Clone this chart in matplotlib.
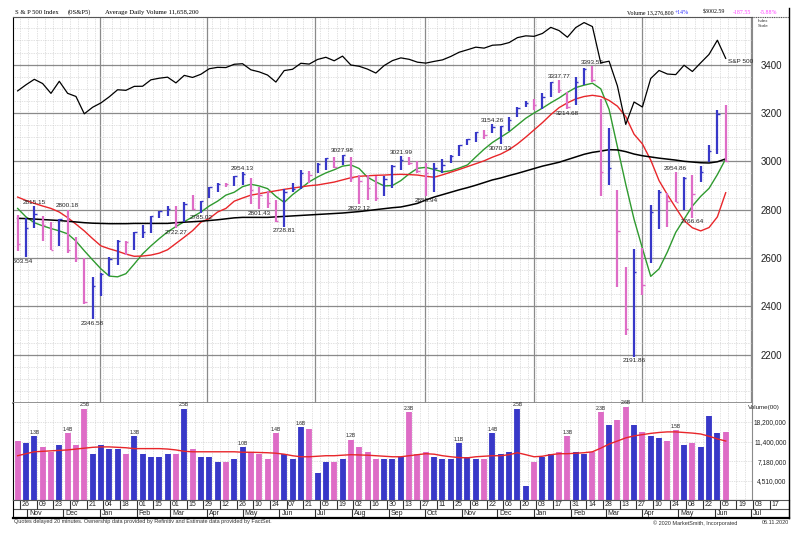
import numpy as np
import pandas as pd
import matplotlib
matplotlib.use("Agg")
import matplotlib.pyplot as plt
import matplotlib.dates as mdates
from matplotlib.lines import Line2D
from matplotlib.ticker import MultipleLocator, NullLocator, FixedLocator, NullFormatter

plt.rcParams['font.family'] = ['Liberation Sans', 'DejaVu Sans']

# Semanas (sexta-feira) do S&P 500, de out/2018 a jun/2020
semanas = pd.date_range("2018-10-26", "2020-06-12", freq="W-FRI")

maximas = [2779, 2767, 2815.15, 2775, 2747, 2760, 2800.18, 2685, 2601, 2520,
           2539, 2605, 2675, 2672, 2708, 2738, 2775, 2795, 2816, 2817,
           2830, 2860, 2836, 2893, 2910, 2911, 2940, 2954.13, 2931, 2892,
           2876, 2841, 2884, 2911, 2964, 2959, 2995, 3014, 3018, 3027.98,
           3017, 2944, 2943, 2939, 2940, 2985, 3021.99, 3017, 3003, 2992,
           2993, 3008, 3027, 3066, 3094, 3120, 3128, 3154.26, 3146, 3183,
           3225, 3248, 3259, 3282, 3329, 3337.77, 3285, 3347, 3385, 3393.52,
           3259, 3137, 2882, 2563, 2637, 2641, 2818, 2880, 2869, 2954.86,
           2933, 2944, 2980, 3068, 3211, 3233]
minimas = [2628, 2603.54, 2722, 2670, 2631, 2649, 2621, 2583, 2409, 2346.58,
           2443, 2525, 2570, 2612, 2631, 2681, 2704, 2766, 2775, 2722.27,
           2747, 2800, 2785.02, 2848, 2873, 2893, 2898, 2900, 2825, 2801.43,
           2805, 2750, 2728.81, 2874, 2887, 2912, 2953, 2964, 2974, 2983,
           2914, 2822.12, 2840, 2834, 2856, 2891, 2964, 2985, 2953, 2855.94,
           2873, 2953, 2991, 3023, 3066, 3078, 3091, 3117, 3070.33, 3124,
           3183, 3223, 3212, 3216, 3264, 3281, 3214.68, 3234, 3315, 3328,
           2856, 2902, 2478, 2280, 2191.86, 2447, 2579, 2719, 2727, 2831,
           2798, 2766.64, 2913, 2999, 3031, 2999]
fechamentos = [2658.69, 2723.06, 2781.01, 2736.27, 2632.56, 2760.17, 2633.08, 2599.95, 2416.62, 2485.74,
               2531.94, 2596.26, 2670.71, 2664.76, 2706.53, 2707.88, 2775.60, 2792.67, 2803.69, 2743.07,
               2822.48, 2800.71, 2834.40, 2892.74, 2907.41, 2905.03, 2939.88, 2945.64, 2881.40, 2859.53,
               2826.06, 2752.06, 2873.34, 2886.98, 2950.46, 2941.76, 2990.41, 3013.77, 2976.61, 3025.86,
               2932.05, 2918.65, 2888.68, 2847.11, 2926.46, 2978.71, 3007.39, 2992.07, 2961.79, 2952.01,
               2970.27, 2986.20, 3022.55, 3066.91, 3093.08, 3120.46, 3110.29, 3140.98, 3145.91, 3168.80,
               3221.22, 3240.02, 3234.85, 3265.35, 3329.62, 3295.47, 3225.52, 3327.71, 3380.16, 3337.75,
               2954.22, 2972.37, 2711.02, 2304.92, 2541.47, 2488.65, 2789.82, 2874.56, 2836.74, 2830.71,
               2929.80, 2863.70, 2955.45, 3044.31, 3193.93, 3002.10]
fechamento_anterior = 2767.78

# volume diario tipico da semana, em milhoes (Volume(00))
volumes = [11.5, 11.0, 13.0, 10.0, 9.0, 10.5, 14.0, 10.5, 25.0, 8.5,
           10.5, 9.5, 9.5, 8.5, 13.0, 8.5, 8.0, 8.0, 8.5, 8.5,
           25.0, 9.5, 8.0, 8.0, 7.0, 7.0, 7.5, 10.0, 9.0, 8.5,
           7.5, 14.0, 8.5, 7.5, 16.0, 15.5, 5.5, 7.0, 7.0, 7.5,
           12.0, 10.0, 9.0, 7.5, 7.5, 7.5, 8.0, 23.0, 8.5, 9.0,
           8.0, 7.5, 7.5, 11.0, 8.0, 7.5, 7.5, 14.0, 8.5, 9.0,
           25.0, 4.0, 7.0, 8.0, 8.5, 9.0, 13.0, 9.0, 8.5, 9.0,
           23.0, 17.0, 19.0, 26.0, 17.0, 14.5, 13.0, 12.5, 11.5, 15.0,
           10.5, 11.0, 10.0, 21.0, 14.0, 14.5]

media_21 = [2805, 2770, 2746, 2733, 2722, 2712, 2700, 2670, 2630, 2592,
            2555, 2525, 2522, 2535, 2575, 2617, 2650, 2680, 2708, 2730,
            2750, 2770, 2790, 2815, 2835, 2860, 2872, 2895, 2905, 2898,
            2887, 2855, 2830, 2862, 2888, 2915, 2935, 2952, 2965, 2980,
            2985, 2970, 2934, 2915, 2898, 2900, 2920, 2948, 2971, 2975,
            2966, 2956, 2961, 2972, 2985, 3018, 3050, 3078, 3100, 3122,
            3150, 3178, 3200, 3220, 3242, 3262, 3285, 3305, 3315, 3323,
            3300, 3215, 3060, 2905, 2760, 2640, 2524, 2555, 2625, 2706,
            2760, 2815, 2855, 2888, 2945, 3010]
media_50 = [2852, 2838, 2826, 2815, 2805, 2790, 2767, 2740, 2712, 2680,
            2650, 2638, 2628, 2616, 2607, 2608, 2612, 2620, 2634, 2660,
            2686, 2713, 2748, 2763, 2790, 2805, 2835, 2848, 2860, 2866,
            2872, 2878, 2884, 2889, 2894, 2899, 2902, 2908, 2914, 2923,
            2932, 2938, 2940, 2942, 2943, 2945, 2946, 2945, 2943, 2938,
            2934, 2944, 2955, 2966, 2978, 2990, 3002, 3017, 3030, 3048,
            3072, 3100, 3130, 3160, 3193, 3222, 3242, 3258, 3268, 3273,
            3268, 3252, 3228, 3185, 3112, 3072, 3005, 2920, 2862, 2808,
            2755, 2725, 2712, 2726, 2770, 2870]
media_200 = [2764, 2763, 2761, 2759, 2757, 2755, 2752, 2749, 2746, 2744,
             2743, 2742, 2742, 2742, 2743, 2743, 2743, 2743, 2743, 2746,
             2748, 2750, 2752, 2755, 2758, 2762, 2766, 2768, 2768, 2768,
             2768, 2770, 2772, 2774, 2776, 2778, 2780, 2782, 2784, 2786,
             2789, 2792, 2796, 2800, 2804, 2808, 2811, 2818, 2826, 2840,
             2852, 2862, 2872, 2882, 2891, 2901, 2912, 2923, 2931, 2941,
             2950, 2960, 2970, 2980, 2988, 2996, 3007, 3018, 3029, 3037,
             3042, 3048, 3047, 3040, 3030, 3023, 3018, 3013, 3009, 3005,
             3000, 2997, 2994, 2993, 2998, 3010]
media_volume = [8.2, 8.6, 9.0, 9.1, 9.2, 9.3, 9.4, 9.6, 9.8, 10.0,
                10.1, 10.1, 10.0, 9.9, 9.7, 9.7, 9.7, 9.7, 9.6, 9.4,
                9.1, 9.0, 9.0, 9.0, 9.0, 9.0, 9.0, 8.9, 8.9, 8.85,
                8.8, 8.7, 8.5, 8.2, 8.0, 8.0, 8.1, 8.2, 8.2, 8.3,
                8.4, 8.35, 8.3, 8.2, 8.1, 8.0, 8.0, 8.2, 8.4, 8.6,
                8.5, 8.2, 8.0, 7.85, 7.8, 8.0, 8.1, 8.2, 8.2, 8.4,
                8.8, 8.4, 8.0, 8.1, 8.4, 8.6, 8.6, 8.7, 8.8, 9.0,
                9.8, 10.8, 11.6, 12.5, 13.1, 13.5, 13.9, 14.2, 14.4, 14.4,
                14.2, 14.0, 13.7, 13.0, 12.2, 11.6]

altas_rotuladas = [2, 6, 27, 39, 46, 57, 65, 69, 79]
baixas_rotuladas = [1, 9, 19, 22, 29, 32, 41, 49, 58, 66, 74, 81]
volumes_rotulados = [2, 6, 8, 14, 20, 27, 31, 34, 40, 47, 53, 57, 60, 66, 70, 73, 79]

ticks_preco = [2200, 2400, 2600, 2800, 3000, 3200, 3400]
ticks_volume = [4.51, 7.18, 11.4, 18.2]

AZUL = '#3838c8'
ROSA = '#de6cc6'
VERDE = '#2f9a2f'
VERMELHO = '#e8262a'
GRADE = '#c4c4c4'
GRADE_FORTE = '#8a8a8a'

W, H = 799, 537


def caixa(x0, y0, x1, y1):
    return [x0 / W, 1 - y1 / H, (x1 - x0) / W, (y1 - y0) / H]


fig = plt.figure(figsize=(7.99, 5.37), dpi=100)
ax = fig.add_axes(caixa(13, 17, 752, 403))
ax_vol = fig.add_axes(caixa(13, 403, 752, 500))
ax_dt = fig.add_axes(caixa(13, 500, 789, 518))

base = pd.Timestamp("2018-10-26")
x_barras = mdates.date2num(semanas - pd.Timedelta(days=2))
esq = mdates.date2num(base - pd.Timedelta(days=5.9))
dir_preco = mdates.date2num(base + pd.Timedelta(days=615.1))
dir_datas = mdates.date2num(base + pd.Timedelta(days=646.2))

fech = np.array(fechamentos)
anteriores = np.concatenate([[fechamento_anterior], fech[:-1]])
cores = np.where(fech >= anteriores, AZUL, ROSA)

# ---- painel de preco ----
ax.set_xlim(esq, dir_preco)
ax.set_ylim(2000, 3597)
ax.vlines(x_barras, minimas, maximas, colors=cores, lw=1.6, zorder=4)
ax.hlines(fech, x_barras, x_barras + 2.0, colors=cores, lw=1.0, zorder=4)
ax.plot(x_barras, media_21, color=VERDE, lw=1.0, zorder=3)
ax.plot(x_barras, media_50, color=VERMELHO, lw=1.0, zorder=3)
ax.plot(x_barras, media_200, color='black', lw=1.1, zorder=3)

for i in altas_rotuladas:
    ax.annotate(f"{maximas[i]:.2f}", (x_barras[i], maximas[i]), xytext=(0, 0.8),
                textcoords='offset points', ha='center', va='bottom',
                fontsize=4.6, color='#222222', zorder=6)
for i in baixas_rotuladas:
    dx = -3 if i == 1 else 0
    ax.annotate(f"{minimas[i]:.2f}", (x_barras[i], minimas[i]), xytext=(dx, -1),
                textcoords='offset points', ha='center', va='top',
                fontsize=4.6, color='#222222', zorder=6, annotation_clip=False,
                clip_on=True)

# linha do S&P 500 na escala do indice
ax_idx = ax.twinx()
ax_idx.set_ylim(-637, 3439)
ax_idx.plot(x_barras, fech, color='black', lw=0.9)
ax_idx.annotate("S&P 500", (x_barras[-1], fech[-1]), xytext=(1.5, -2.5),
                textcoords='offset points', ha='left', va='center', fontsize=4.6,
                color='#222222')
ax_idx.set_yticks([])
for s in ax_idx.spines.values():
    s.set_visible(False)

ax.yaxis.tick_right()
ax.set_yticks(ticks_preco)
ax.set_yticklabels([str(t) for t in ticks_preco], fontsize=7, color='#222222')
ax.yaxis.set_minor_locator(MultipleLocator(50))
ax.tick_params(axis='y', which='both', length=0, pad=6)
ax.xaxis.set_major_locator(mdates.MonthLocator(bymonth=[1, 4, 7, 10]))
ax.xaxis.set_minor_locator(mdates.WeekdayLocator(byweekday=mdates.FR))
ax.xaxis.set_major_formatter(NullFormatter())
ax.tick_params(axis='x', which='both', length=0)
ax.grid(which='major', color=GRADE_FORTE, lw=0.9)
ax.grid(which='minor', color=GRADE, lw=0.5, ls=(0, (1, 1.5)))
ax.set_axisbelow(True)
ax.spines['left'].set_color('black')
ax.spines['right'].set_color(GRADE_FORTE)
ax.spines['top'].set_color('#555555')
ax.spines['top'].set_linestyle((0, (1, 0.6)))
ax.spines['bottom'].set_color(GRADE_FORTE)
ax.spines['bottom'].set_linewidth(1.3)

# ---- painel de volume ----
ax_vol.set_xlim(esq, dir_preco)
ax_vol.set_yscale('log')
ax_vol.set_ylim(2.88, 28.5)
ax_vol.vlines(x_barras, 1, volumes, colors=cores, lw=4.2, zorder=3)
ax_vol.plot(x_barras, media_volume, color=VERMELHO, lw=1.0, zorder=4)
for i in volumes_rotulados:
    ax_vol.annotate(f"{volumes[i] / 10:.1f}B", (x_barras[i], volumes[i]), xytext=(0, 1),
                    textcoords='offset points', ha='center', va='bottom',
                    fontsize=3.6, color='#222222', zorder=6, annotation_clip=False)
ax_vol.yaxis.tick_right()
ax_vol.yaxis.set_major_locator(FixedLocator(ticks_volume))
ax_vol.yaxis.set_minor_locator(NullLocator())
ax_vol.set_yticklabels([f"{t * 1e6:,.0f}" for t in ticks_volume], fontsize=4.8, color='#222222')
for t in ax_vol.get_yticklabels():
    t.set_horizontalalignment('right')
ax_vol.tick_params(axis='y', length=0, pad=25)
ax_vol.xaxis.set_major_locator(mdates.WeekdayLocator(byweekday=mdates.FR))
ax_vol.xaxis.set_major_formatter(NullFormatter())
ax_vol.tick_params(axis='x', length=0)
ax_vol.grid(color=GRADE, lw=0.5, ls=(0, (1, 1.5)))
ax_vol.set_axisbelow(True)
ax_vol.spines['left'].set_color('black')
ax_vol.spines['right'].set_color(GRADE_FORTE)
ax_vol.spines['top'].set_visible(False)
ax_vol.spines['bottom'].set_color('#555555')
fig.text(748 / W, 1 - 407 / H, "Volume(00)", ha='left', va='center',
         fontsize=4.5, color='#222222')

# ---- faixa de datas ----
ax_dt.set_xlim(esq, dir_datas)
ax_dt.set_ylim(0, 2)
ax_dt.set_xticks([])
ax_dt.set_yticks([])
ax_dt.axhline(1, color='#555555', lw=0.8)
dias = pd.date_range(base, "2020-07-17", freq="2W-FRI")
x_dias = mdates.date2num(dias)
ax_dt.vlines(x_dias, 1, 2, color='#333333', lw=0.8)
for xd, d in zip(x_dias, dias):
    ax_dt.annotate(d.strftime("%d"), (xd, 1.5), xytext=(1.2, 0), textcoords='offset points',
                   ha='left', va='center', fontsize=5, color='#222222')
meses = pd.date_range("2018-11-01", "2020-07-01", freq="MS")
x_meses = mdates.date2num(meses)
ax_dt.vlines(x_meses, 0, 1, color='#333333', lw=0.8)
for xm, m in zip(x_meses, meses):
    ax_dt.annotate(m.strftime("%b"), (xm, 0.5), xytext=(1.5, 0), textcoords='offset points',
                   ha='left', va='center', fontsize=5, color='#222222')
ax_dt.spines['left'].set_color('black')
ax_dt.spines['right'].set_color('black')
ax_dt.spines['top'].set_color('#555555')
ax_dt.spines['bottom'].set_color('black')
ax_dt.spines['bottom'].set_linewidth(1.6)

# ---- moldura e cabecalho ----
fig.add_artist(Line2D([789 / W, 789 / W], [1 - 8 / H, 1 - 518 / H], color='black', lw=1.0))
fig.add_artist(Line2D([752 / W, 789 / W], [1 - 17 / H, 1 - 17 / H], color='#555555', lw=0.8,
                      ls=(0, (1, 0.6))))

serif = ['Liberation Serif', 'DejaVu Serif']
fig.text(15 / W, 1 - 12.5 / H, "S & P 500 Index", family=serif, fontsize=4.8, va='center')
fig.text(68 / W, 1 - 12.5 / H, "(0S&P5)", family=serif, fontsize=4.8, va='center')
fig.text(105 / W, 1 - 12.5 / H, "Average Daily Volume 11,658,200", family=serif,
         fontsize=4.9, va='center')
fig.text(627 / W, 1 - 12.5 / H, "Volume 13,276,800", family=serif, fontsize=4.2, va='center')
fig.text(675 / W, 1 - 12.5 / H, "+14%", family=serif, fontsize=4.2, va='center', color='#3030ff')
fig.text(703 / W, 1 - 12.5 / H, "$3002.59", family=serif, fontsize=4.2, va='center')
fig.text(733 / W, 1 - 12.5 / H, "-187.55", family=serif, fontsize=4.2, va='center', color='#ff40ff')
fig.text(760 / W, 1 - 12.5 / H, "-5.88%", family=serif, fontsize=4.2, va='center', color='#ff40ff')
fig.text(758 / W, 1 - 19 / H, "Index\nScale", fontsize=3.2, va='top', color='#333333',
         linespacing=1.3)

fig.text(14 / W, 1 - 522 / H,
         "Quotes delayed 20 minutes. Ownership data provided by Refinitiv and Estimate data provided by FactSet.",
         fontsize=4.0, va='center', color='#333333')
fig.text(653 / W, 1 - 523 / H, "\u00a9 2020 MarketSmith, Incorporated", fontsize=4.0,
         va='center', color='#333333')
fig.text(762 / W, 1 - 522 / H, "06.11.2020", fontsize=4.0, va='center', color='#333333')

fig.savefig("out.png", dpi=100)
